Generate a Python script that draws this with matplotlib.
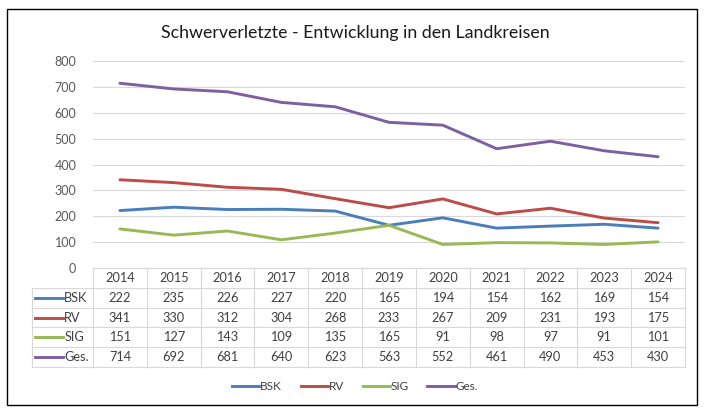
import matplotlib
matplotlib.use("Agg")
import matplotlib.pyplot as plt
from matplotlib.patches import Rectangle
from matplotlib.lines import Line2D

plt.rcParams['font.family'] = ['Lato', 'DejaVu Sans']

years = ["2014", "2015", "2016", "2017", "2018", "2019", "2020", "2021", "2022", "2023", "2024"]
bsk = [222, 235, 226, 227, 220, 165, 194, 154, 162, 169, 154]
rv = [341, 330, 312, 304, 268, 233, 267, 209, 231, 193, 175]
sig = [151, 127, 143, 109, 135, 165, 91, 98, 97, 91, 101]
ges = [714, 692, 681, 640, 623, 563, 552, 461, 490, 453, 430]
series_names = ["BSK", "RV", "SIG", "Ges."]
series = [bsk, rv, sig, ges]
colors = ["#4A7EBB", "#BE4B48", "#98B954", "#7D60A0"]
yticks = [0, 100, 200, 300, 400, 500, 600, 700, 800]

W, H = 710, 416
fig = plt.figure(figsize=(W / 100, H / 100), dpi=100)

def fx(px):
    return px / W

def fy(py):
    return 1 - py / H

left, right = 93, 685
top, bottom = 61, 268
ax = fig.add_axes([fx(left), fy(bottom), fx(right - left), fy(top) - fy(bottom)])
x = list(range(len(years)))
for vals, c, n in zip(series, colors, series_names):
    ax.plot(x, vals, color=c, lw=2.1, label=n, solid_capstyle='round', zorder=3)
ax.set_xlim(-0.5, len(years) - 0.5)
ax.set_ylim(0, 800)
ax.set_yticks(yticks)
ax.set_yticklabels([str(v) for v in yticks], fontsize=9, color="#595959")
ax.tick_params(axis='y', length=0, pad=12)
ax.set_xticks([])
ax.grid(axis='y', color="#D9D9D9", lw=0.8)
for s in ax.spines.values():
    s.set_visible(False)
ax.axhline(0, color="#D9D9D9", lw=0.8)

# data table
row_h = 20
tab_top = bottom
n_rows = len(series) + 1
tab_bottom = tab_top + row_h * n_rows - 1
tax = fig.add_axes([fx(left), fy(tab_bottom), fx(right - left), fy(tab_top) - fy(tab_bottom)])
tax.set_xlim(-0.5, len(years) - 0.5)
tax.set_ylim(n_rows, 0)
tax.axis('off')
gc = "#D9D9D9"
lx = -0.5 - 61 / 53.8
for r in range(n_rows + 1):
    xs = (-0.5, len(years) - 0.5) if r == 0 else (lx, len(years) - 0.5)
    tax.plot(xs, [r, r], color=gc, lw=0.8, clip_on=False)
for k in range(len(years) + 1):
    tax.plot([k - 0.5, k - 0.5], [0, n_rows], color=gc, lw=0.8, clip_on=False)
tax.plot([lx, lx], [1, n_rows], color=gc, lw=0.8, clip_on=False)
for i, y in enumerate(years):
    tax.text(i, 0.5, y, ha='center', va='center', fontsize=9.2, color="#404040")
for r, (vals, c, n) in enumerate(zip(series, colors, series_names), start=1):
    for i, v in enumerate(vals):
        tax.text(i, r + 0.5, str(v), ha='center', va='center', fontsize=9.2, color="#404040")
    tax.plot([lx + 0.06, lx + 0.58], [r + 0.5, r + 0.5], color=c, lw=2.1, clip_on=False)
    tax.text(lx + 0.6, r + 0.5, n, ha='left', va='center', fontsize=9.2, color="#404040")

fig.text(0.5, fy(33), "Schwerverletzte - Entwicklung in den Landkreisen",
         ha='center', va='center', fontsize=12.8, color="#1a1a1a")

handles = [Line2D([0], [0], color=c, lw=2.1) for c in colors]
fig.legend(handles, series_names, loc='center', bbox_to_anchor=(fx(355), fy(387)),
           ncol=4, frameon=False, fontsize=8.5, handlelength=2.3, handletextpad=0.05,
           columnspacing=1.6, labelcolor="#404040")

fig.patches.append(Rectangle((fx(7), fy(405)), fx(690), fy(9) - fy(405),
                             transform=fig.transFigure, fill=False, ec="black", lw=1.0))

fig.savefig("out.png", dpi=100)
